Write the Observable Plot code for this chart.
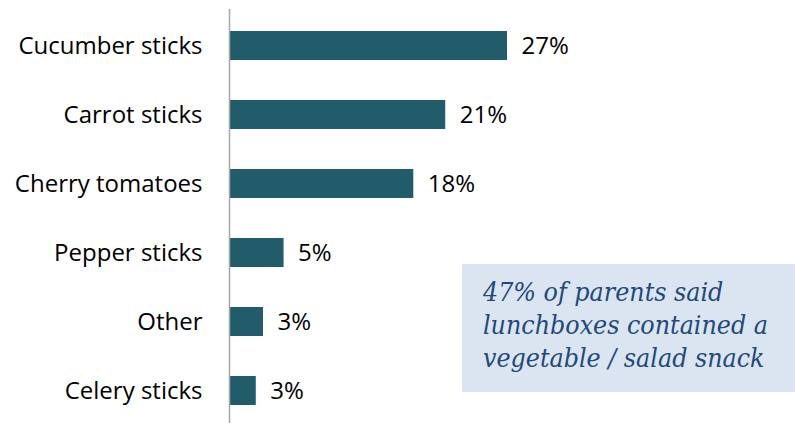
<!DOCTYPE html>
<html>
<head>
<meta charset="utf-8">
<script src="https://cdn.jsdelivr.net/npm/d3@7"></script>
<script src="https://cdn.jsdelivr.net/npm/@observablehq/plot@0.6"></script>
<style>
  html, body { margin: 0; padding: 0; background: #fff; overflow: hidden; }
  #wrap { position: relative; width: 795px; height: 423px; overflow: hidden; }
  #wrap svg { position: absolute; left: 0; top: 0; }
  #note {
    position: absolute; left: 462px; top: 264px; width: 333px; height: 128px;
    background: #dbe5f1; box-sizing: border-box; padding: 11px 0 0 21px;
    font-family: "DejaVu Serif", serif; font-style: italic; font-stretch: condensed;
    font-size: 26.5px; line-height: 33px; color: #1f497d; white-space: nowrap;
  }
</style>
</head>
<body>
<div id="wrap"><div id="note"></div></div>
<script>
const categories = ["Cucumber sticks", "Carrot sticks", "Cherry tomatoes", "Pepper sticks", "Other", "Celery sticks"];
const values = [27.0, 21.0, 17.9, 5.3, 3.3, 2.6];
const valueLabels = ["27%", "21%", "18%", "5%", "3%", "3%"];
const noteLines = ["47% of parents said", "lunchboxes contained a", "vegetable / salad snack"];

const data = categories.map((c, i) => ({category: c, value: values[i], label: valueLabels[i]}));

const chart = Plot.plot({
  width: 795,
  height: 428,
  marginLeft: 229,
  marginRight: 0,
  marginTop: 9,
  marginBottom: 0,
  style: {fontFamily: "'Open Sans', sans-serif", fontSize: "24px", color: "#000", background: "#fff"},
  x: {domain: [0, 27], range: [229, 507], axis: null},
  y: {domain: categories, range: [8.6, 427.5], paddingInner: 0.585, paddingOuter: 0.2925, axis: null},
  marks: [
    Plot.barX(data, {x: "value", y: "category", fill: "#225b69"}),
    Plot.ruleX([0], {stroke: "#a6a6a6", strokeWidth: 1.5}),
    Plot.text(data, {x: "value", y: "category", text: "label", textAnchor: "start", dx: 14, fill: "#000", fontSize: 24}),
    Plot.text(data, {x: 0, y: "category", text: "category", textAnchor: "end", dx: -27, fill: "#000", fontSize: 24})
  ]
});
document.getElementById("wrap").prepend(chart);
const note = document.getElementById("note");
note.innerHTML = noteLines.map(l => `<div>${l}</div>`).join("");
</script>
</body>
</html>
